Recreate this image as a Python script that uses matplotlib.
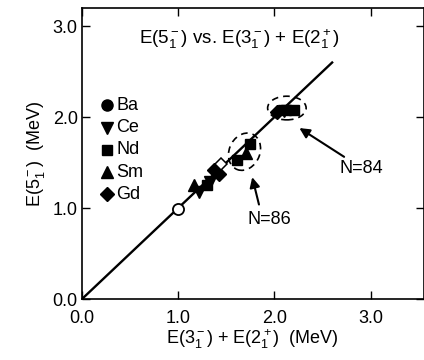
import matplotlib.pyplot as plt
from matplotlib.patches import Ellipse

plt.rcParams['font.family'] = ['Liberation Sans', 'DejaVu Sans']
plt.rcParams['mathtext.fontset'] = 'custom'
plt.rcParams['mathtext.rm'] = 'Liberation Sans'
plt.rcParams['mathtext.it'] = 'Liberation Sans'

# data: x = E(3-) + E(2+), y = E(5-) in MeV
ba_x = [1.00]
ba_y = [0.99]
ce_x = [1.22, 1.33, 2.10]
ce_y = [1.18, 1.29, 2.07]
nd_x = [1.30, 1.61, 1.75, 2.12, 2.20]
nd_y = [1.25, 1.53, 1.71, 2.08, 2.08]
sm_x = [1.16, 1.71]
sm_y = [1.25, 1.61]
gd_x = [1.37, 1.42, 2.03]
gd_y = [1.42, 1.38, 2.06]
open_sq_x = [1.45]
open_sq_y = [1.49]

legend_names = ["Ba", "Ce", "Nd", "Sm", "Gd"]
legend_markers = ["o", "v", "s", "^", "D"]

fig = plt.figure(figsize=(4.24, 3.6), dpi=100)
ax = fig.add_axes([0.193, 0.169, 0.806, 0.809])

ax.plot([0, 2.6], [0, 2.6], color="black", lw=1.7, zorder=2)

ms = 8
ax.plot(ba_x, ba_y, "o", mfc="white", mec="black", mew=1.3, ms=ms, zorder=3)
ax.plot(ce_x, ce_y, "v", color="black", ms=ms, zorder=3)
ax.plot(nd_x, nd_y, "s", color="black", ms=ms - 1, zorder=3)
ax.plot(sm_x, sm_y, "^", color="black", ms=ms, zorder=3)
ax.plot(gd_x, gd_y, "D", color="black", ms=ms - 1, zorder=3)
ax.plot(open_sq_x, open_sq_y, "D", mfc="white", mec="black", mew=1.1, ms=ms - 2, zorder=3)

# dashed circles around the N=84 and N=86 groups
ax.add_patch(Ellipse((2.13, 2.10), 0.40, 0.26, fill=False, ls=(0, (4, 3)), lw=1.2))
ax.add_patch(Ellipse((1.69, 1.62), 0.32, 0.42, angle=-20, fill=False, ls=(0, (4, 3)), lw=1.2))

ax.annotate("N=84", xy=(2.26, 1.88), xytext=(2.68, 1.44), fontsize=13,
            ha="left", va="center",
            arrowprops=dict(arrowstyle="-|>", color="black", lw=1.5,
                            shrinkA=0, shrinkB=0, mutation_scale=15),
            )
ax.annotate("", xy=(1.77, 1.34), xytext=(1.84, 1.04),
            arrowprops=dict(arrowstyle="-|>", color="black", lw=1.5,
                            shrinkA=0, shrinkB=0, mutation_scale=15))
ax.text(1.95, 0.87, "N=86", fontsize=13, ha="center", va="center")

# legend drawn by hand
for i, (name, m) in enumerate(zip(legend_names, legend_markers)):
    yy = 2.13 - i * 0.245
    ax.plot(0.26, yy, m, color="black", ms=ms - 1 if m in "sD" else ms)
    ax.text(0.36, yy, name, fontsize=13, va="center", ha="left")

ax.text(1.64, 2.86, r"E($5_1^-$) vs. E($3_1^-$) + E($2_1^+$)", fontsize=13.5,
        ha="center", va="center")

ax.set_xlim(0, 3.55)
ax.set_ylim(0, 3.2)
ax.set_xticks([0, 1, 2, 3])
ax.set_yticks([0, 1, 2, 3])
ax.set_xticklabels(["0.0", "1.0", "2.0", "3.0"])
ax.set_yticklabels(["0.0", "1.0", "2.0", "3.0"])
ax.tick_params(direction="in", length=6, width=1, top=True, right=True,
               labelsize=13, pad=3)
ax.tick_params(axis="x", pad=8)
for s in ax.spines.values():
    s.set_linewidth(1.2)

ax.set_xlabel(r"E($3_1^-$) + E($2_1^+$)  (MeV)", fontsize=13, labelpad=0)
ax.set_ylabel(r"E($5_1^-$)  (MeV)", fontsize=13, labelpad=4)

plt.savefig("out.png", dpi=100)
